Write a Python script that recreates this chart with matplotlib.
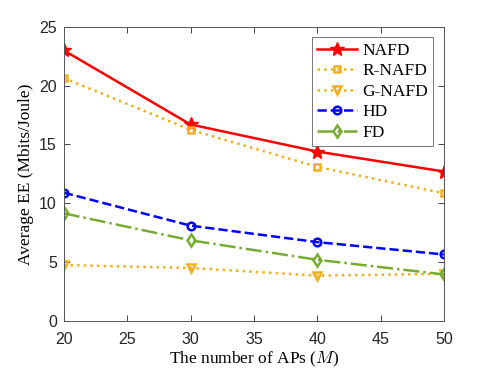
import numpy as np
import matplotlib.pyplot as plt

plt.rcParams['font.family'] = 'Liberation Serif'
plt.rcParams['mathtext.fontset'] = 'cm'

aps = [20, 30, 40, 50]
nafd = [23.0, 16.7, 14.4, 12.7]
r_nafd = [20.65, 16.25, 13.1, 10.85]
g_nafd = [4.75, 4.5, 3.85, 4.0]
hd = [10.9, 8.1, 6.7, 5.65]
fd = [9.15, 6.85, 5.2, 3.95]

orange = '#EDB120'
green = '#77AC30'

fig = plt.figure(figsize=(4.91, 3.68), dpi=100)
ax = fig.add_axes([0.130, 0.128, 0.774, 0.799])

ax.plot(aps, nafd, '-', color='red', lw=1.8, marker='*', ms=10, label='NAFD')
ax.plot(aps, r_nafd, ':', color=orange, lw=1.8, marker='s', ms=5,
        mfc='none', mew=1.8, label='R-NAFD')
ax.plot(aps, g_nafd, ':', color=orange, lw=1.8, marker='v', ms=6,
        mfc='none', mew=1.8, label='G-NAFD')
ax.plot(aps, hd, '--', color='blue', lw=1.8, marker='o', ms=5.5,
        mfc='none', mew=1.8, label='HD')
ax.plot(aps, fd, '-.', color=green, lw=1.8, marker='d', ms=6,
        mfc='none', mew=1.8, label='FD')

ax.set_xlim(20, 50)
ax.set_ylim(0, 25)
ax.set_xticks(np.arange(20, 51, 5))
ax.set_yticks(np.arange(0, 26, 5))
for lbl in ax.get_xticklabels() + ax.get_yticklabels():
    lbl.set_family('Liberation Sans')
    lbl.set_fontsize(11.5)
ax.tick_params(direction='in', top=True, right=True, length=4,
               colors='#262626', width=0.6)
ax.tick_params(axis='x', pad=8)
ax.tick_params(axis='y', pad=5)
for s in ax.spines.values():
    s.set_color('#555555')
    s.set_linewidth(0.7)

ax.set_xlabel('The number of APs ($M$)', fontsize=12.5, labelpad=2)
ax.set_ylabel('Average EE (Mbits/Joule)', fontsize=12.5)

leg = ax.legend(loc='upper right', fontsize=12.5, fancybox=False,
                edgecolor='#555555', handlelength=2.3, borderpad=0.3,
                labelspacing=0.25, handletextpad=0.3, borderaxespad=0.6)
leg.get_frame().set_linewidth(0.7)

fig.savefig('out.png', dpi=100)
